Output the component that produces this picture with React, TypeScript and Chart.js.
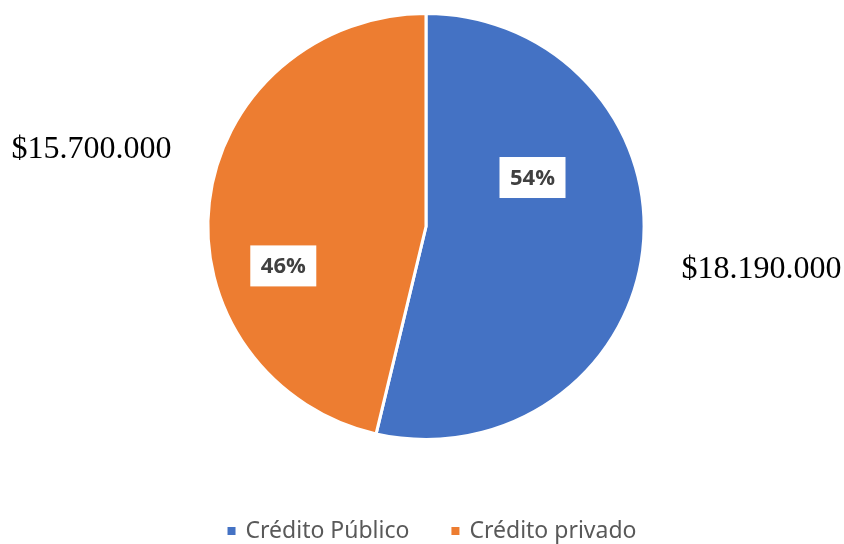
import React, { useEffect, useRef } from "react";
import { Chart, registerables } from "chart.js";

Chart.register(...registerables);

const categories = ["Crédito Público", "Crédito privado"];
const values = [18190000, 15700000];
const amountLabels = ["$18.190.000", "$15.700.000"];
const colors = ["#4472C4", "#ED7D31"];

// label anchors as fractions of the radius, relative to pie center
const pctAnchors = [
  [0.5, -0.23],
  [-0.67, 0.185],
];
const amountAnchors = [
  [1.575, 0.2],
  [-1.57, -0.36],
];
const xStretch = 1.024;

export default function App() {
  const ref = useRef<HTMLCanvasElement | null>(null);
  useEffect(() => {
    const canvas = ref.current!;
    const total = values.reduce((a, b) => a + b, 0);
    const stretchPlugin = {
      id: "stretch",
      beforeDatasetsDraw(chart: any) {
        const ctx = chart.ctx as CanvasRenderingContext2D;
        const arc = chart.getDatasetMeta(0).data[0];
        ctx.save();
        ctx.translate(arc.x, arc.y);
        ctx.scale(xStretch, 1);
        ctx.translate(-arc.x, -arc.y);
      },
      afterDatasetsDraw(chart: any) {
        chart.ctx.restore();
      },
    };
    const labelPlugin = {
      id: "labels",
      afterDraw(chart: any) {
        const ctx = chart.ctx as CanvasRenderingContext2D;
        const meta = chart.getDatasetMeta(0);
        ctx.save();
        meta.data.forEach((arc: any, i: number) => {
          const { x, y, outerRadius } = arc.getProps(["x", "y", "outerRadius"], true);
          const pct = Math.round((values[i] / total) * 100) + "%";
          const px = x + pctAnchors[i][0] * outerRadius;
          const py = y + pctAnchors[i][1] * outerRadius;
          ctx.font = "bold 22px 'Open Sans', 'Noto Sans', sans-serif";
          const w = 66;
          const h = 41;
          ctx.fillStyle = "#ffffff";
          ctx.fillRect(px - w / 2, py - h / 2, w, h);
          ctx.fillStyle = "#404040";
          ctx.textAlign = "center";
          ctx.textBaseline = "middle";
          ctx.fillText(pct, px, py + 1);

          const ax = x + amountAnchors[i][0] * outerRadius;
          const ay = y + amountAnchors[i][1] * outerRadius;
          ctx.font = "32px 'Liberation Serif', 'Times New Roman', serif";
          ctx.fillStyle = "#000000";
          ctx.fillText(amountLabels[i], ax, ay);
        });

        // legend
        ctx.font = "23px 'Noto Sans', 'Open Sans', sans-serif";
        ctx.textAlign = "left";
        ctx.textBaseline = "middle";
        const ly = 531;
        const gap = 42;
        const box = 8;
        const widths = categories.map((c) => box + 10 + ctx.measureText(c).width);
        const totalW = widths.reduce((a, b) => a + b, 0) + gap;
        let lx = 432 - totalW / 2;
        categories.forEach((c, i) => {
          ctx.fillStyle = colors[i];
          ctx.fillRect(lx, ly - box / 2, box, box);
          ctx.fillStyle = "#595959";
          ctx.fillText(c, lx + box + 10, ly);
          lx += widths[i] + gap;
        });
        ctx.restore();
      },
    };
    const chart = new Chart(canvas, {
      type: "pie",
      data: {
        labels: categories,
        datasets: [
          {
            data: values,
            backgroundColor: colors,
            borderColor: "#ffffff",
            borderWidth: 3,
          },
        ],
      },
      options: {
        animation: false,
        responsive: false,
        maintainAspectRatio: false,
        layout: { padding: { top: 12, bottom: 103, left: 8, right: 0 } },
        plugins: {
          legend: { display: false },
          tooltip: { enabled: false },
        },
      },
      plugins: [stretchPlugin, labelPlugin],
    });
    return () => chart.destroy();
  }, []);
  return (
    <div style={{ position: "fixed", left: 0, top: 0, width: 844, height: 544, background: "#fff" }}>
      <canvas ref={ref} width={844} height={544} style={{ display: "block" }} />
    </div>
  );
}
